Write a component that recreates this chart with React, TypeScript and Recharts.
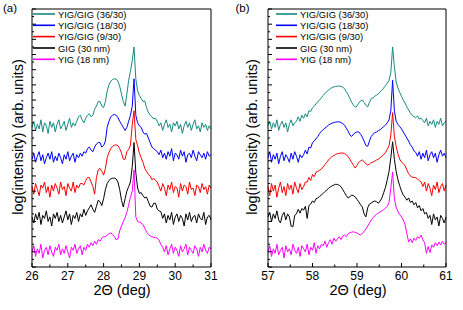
import { Line, LineChart, XAxis, YAxis } from 'recharts'

// XRD scans: (a) around the (444) region, (b) around (888)
const scanA = { start: 26, step: 0.05 }
const scanB = { start: 57, step: 0.04 }

const seriesNames = ['YIG/GIG (36/30)', 'YIG/GIG (18/30)', 'YIG/GIG (9/30)', 'GIG (30 nm)', 'YIG (18 nm)']
const seriesColors = ['#178a80', '#0000ff', '#ff0000', '#000000', '#ff00ff']

const xTicksA = [26, 26.5, 27, 27.5, 28, 28.5, 29, 29.5, 30, 30.5, 31]
const xTicksB = [57, 57.5, 58, 58.5, 59, 59.5, 60, 60.5, 61]
const yTicks = [
  0, 0.5, 1, 1.5, 2, 2.5, 3, 3.5, 4, 4.5, 5, 5.5, 6, 6.5, 7, 7.5, 8, 8.5, 9, 9.5, 10, 10.5, 11, 11.5, 12,
  12.5, 13, 13.5, 14, 14.5, 15, 15.5, 16, 16.5, 17,
]

// log intensity, stacked (arb. units)
const tealA = [
  9.2, 9.6, 9.0, 9.4, 9.1, 9.7, 8.9, 9.5, 9.3, 8.8, 9.6, 9.2, 9.5, 8.9, 9.4, 9.7, 9.1, 9.3, 9.6, 9.0, 9.4, 9.8, 9.2, 9.5, 9.3,
  9.6, 9.9, 10.0, 9.7, 9.5, 9.8, 10.0, 10.1, 9.9, 10.0, 10.4, 10.6, 10.9, 10.9, 10.6, 10.5, 10.9, 11.6, 12.0, 12.25, 12.35,
  12.4, 12.38, 12.25, 11.9, 11.4, 10.9, 10.6, 11.4, 12.3, 12.9, 13.6, 14.5, 12.4, 11.6, 11.3, 11.1, 10.9, 10.95, 10.5, 10.2,
  10.0, 9.9, 9.75, 9.8, 9.6,
  9.3, 9.5, 9.0, 9.4, 9.7, 9.2, 9.4, 8.9, 9.5, 9.3, 9.6, 9.1, 9.4, 8.8, 9.3, 9.6, 9.2, 9.5, 9.0, 9.4, 9.7, 9.1, 9.3, 8.9, 9.5,
  9.2, 9.4, 9.0, 9.3, 9.1,
]
const blueA = [
  7.1, 7.5, 6.9, 7.3, 7.6, 7.0, 7.4, 6.8, 7.2, 7.5, 7.1, 7.6, 6.9, 7.3, 7.0, 7.5, 7.2, 6.8, 7.4, 7.1, 7.6, 7.0, 7.3, 7.5, 6.9,
  7.4, 7.2,
  7.5, 7.3, 7.6, 7.5, 7.8, 7.9, 7.7, 7.6, 7.9, 8.1, 8.2, 8.2, 7.9, 8.0, 8.3, 9.2, 9.6, 9.9, 10.0, 10.05, 10.0, 9.85, 9.6, 9.4,
  9.2, 9.0, 9.2, 9.6, 10.0, 10.6, 12.4, 10.0, 9.5, 9.3, 9.2, 8.9, 8.75, 8.8, 8.5, 8.2, 7.9, 7.8, 7.7, 7.6,
  7.4, 7.7, 7.2, 7.5, 7.1, 7.6, 7.3, 7.8, 7.0, 7.5, 7.4, 7.1, 7.7, 7.3, 7.6, 6.9, 7.4, 7.5, 7.2, 7.7, 7.3, 7.0, 7.6, 7.4, 7.2,
  7.5, 7.1, 7.6, 7.3, 7.4,
]
const redA = [
  5.3, 4.8, 5.5, 5.1, 4.7, 5.4, 5.2, 5.6, 4.9, 5.3, 4.6, 5.4, 5.0, 5.5, 5.2, 4.8, 5.6, 5.1, 5.3, 4.7, 5.5, 5.2, 5.0, 5.6, 4.9,
  5.4, 5.2, 5.5,
  5.5, 5.4, 5.7, 5.9, 5.9, 5.6, 5.3, 4.8, 5.9, 6.4, 6.5, 6.3, 6.05, 6.5, 7.2, 7.55, 7.8, 7.95, 8.02, 8.05, 8.0, 7.8, 7.5, 7.1,
  7.1, 7.6, 7.75, 8.0, 9.4, 10.3, 8.4, 8.0, 7.5, 7.2, 6.9, 6.5, 6.3, 6.1, 6.0, 5.75, 5.85, 5.7, 5.6,
  5.3, 5.0, 5.5, 5.2, 4.7, 5.4, 5.1, 5.6, 4.9, 5.3, 5.2, 4.6, 5.5, 5.0, 5.4, 5.3, 4.8, 5.6, 5.1, 5.2, 4.7, 5.4, 5.3, 4.9, 5.5,
  5.1, 5.3, 4.8, 5.4, 5.2,
]
const blackA = [
  3.3, 2.9, 3.5, 3.1, 3.6, 2.8, 3.4, 3.2, 3.7, 3.0, 3.3, 2.7, 3.5, 3.2, 3.6, 3.0, 3.4, 2.9, 3.3, 3.7, 3.1, 3.5, 2.8, 3.4, 3.2,
  3.6, 3.0, 3.5, 3.3, 3.8, 3.4,
  3.7, 3.9, 4.1, 3.8, 3.6, 4.0, 4.4, 4.3, 4.05, 4.5, 5.1, 5.5, 5.7, 5.8, 5.85, 5.86, 5.8, 5.6, 5.1, 4.4, 3.95, 4.5, 5.0, 5.3,
  5.6, 6.6, 8.2, 6.2, 5.2, 4.85, 4.9, 4.7, 4.55, 4.6, 4.3, 4.0, 3.95, 4.2, 4.2, 3.8, 3.7, 3.65,
  3.2, 3.5, 2.9, 3.4, 3.1, 3.6, 2.8, 3.3, 3.5, 3.0, 3.4, 3.2, 2.7, 3.5, 3.1, 3.6, 3.0, 3.3, 3.4, 2.9, 3.5, 3.2, 3.1, 3.6, 2.8,
  3.3, 3.4, 3.1,
]
const magentaA = [
  1.0, 1.4, 0.7, 1.2, 0.9, 1.5, 0.6, 1.1, 1.3, 0.8, 1.4, 1.0, 0.7, 1.3, 1.1, 1.5, 0.8, 1.2, 0.9, 1.4, 1.0, 0.6, 1.3, 1.1, 1.5,
  0.9, 1.2, 1.4, 0.8, 1.3, 1.1,
  1.5, 1.3, 1.6, 1.4, 1.7, 1.5, 1.8, 1.7, 1.9, 2.0, 2.0, 2.1, 2.2, 2.25, 2.15, 2.0, 1.8, 1.85, 2.4, 2.7, 3.0, 3.25, 3.6, 4.1,
  4.6, 5.0, 6.4, 3.3, 3.0, 2.95, 2.9, 2.8, 2.55, 2.3, 2.15, 2.05, 2.0, 1.95, 1.95, 1.9, 1.75, 1.5, 1.3,
  1.0, 1.4, 0.8, 1.2, 1.5, 0.9, 1.3, 1.1, 0.7, 1.4, 1.0, 1.2, 1.5, 0.8, 1.3, 1.1, 0.9, 1.4, 1.2, 0.7, 1.3, 1.0, 1.5, 1.1, 0.9,
  1.3, 1.2,
]

const tealB = [
  9.3, 9.6, 9.1, 9.5, 9.2, 9.7, 9.0, 9.4, 9.6, 9.2, 9.5, 8.9, 9.4, 9.7, 9.3, 9.5,
  9.6, 9.9, 9.6, 10.0, 9.8, 10.1, 9.9, 10.3, 10.25, 10.5, 10.6, 10.75, 10.9, 11.0, 11.15, 11.3, 11.45, 11.55, 11.65, 11.75,
  11.82, 11.87, 11.9, 11.92, 11.92, 11.9, 11.85, 11.75, 11.55, 11.35, 11.1, 10.85, 10.65, 10.55, 10.6, 10.8, 10.95, 11.0,
  10.85, 10.65, 10.55, 10.85, 11.1, 11.15, 11.25, 11.33, 11.4, 11.55, 11.65, 11.8, 11.95, 12.1, 12.3, 12.8, 14.5, 13.2, 12.2,
  11.8, 11.5, 11.25, 11.0, 10.8, 10.55, 10.35, 10.15, 10.0, 9.9, 9.85, 9.95, 9.75, 9.8, 9.65,
  9.5, 9.8, 9.3, 9.6, 9.4, 9.7, 9.2, 9.6, 9.4, 9.8, 9.3, 9.5, 9.6,
]
const blueB = [
  7.2, 7.6, 6.9, 7.4, 7.1, 7.5, 6.8, 7.3, 7.6, 7.0, 7.4, 7.2, 6.9, 7.5, 7.1, 7.6, 7.3, 6.9, 7.4, 7.2,
  7.4, 7.7, 7.45, 7.9, 7.85, 8.2, 8.3, 8.45, 8.6, 8.8, 8.95, 9.05, 9.15, 9.25, 9.35, 9.42, 9.48, 9.52, 9.55, 9.57, 9.56, 9.52,
  9.45, 9.35, 9.15, 8.95, 8.7, 8.6, 8.75, 8.85, 8.9, 8.9, 8.75, 8.55, 8.3, 8.0, 7.95, 8.3, 8.6, 8.75, 8.85, 8.9, 8.98, 9.05,
  9.15, 9.25, 9.35, 9.5, 9.7, 10.3, 12.3, 10.3, 9.6, 9.4, 9.25, 9.1, 8.9, 8.7, 8.5, 8.3, 8.05, 7.9, 7.65, 7.55,
  7.3, 7.6, 7.1, 7.5, 7.2, 7.7, 7.0, 7.4, 7.6, 7.2, 7.5, 6.9, 7.4, 7.7, 7.3, 7.5, 7.2,
]
const redB = [
  5.3, 4.7, 5.5, 5.0, 5.4, 4.6, 5.2, 5.6, 4.9, 5.3, 4.7, 5.5, 5.1, 5.4, 4.8, 5.6, 5.2, 4.9, 5.5, 5.1, 5.3, 5.6,
  5.6, 5.9, 5.7, 6.1, 5.95, 6.25, 6.3, 6.38, 6.45, 6.6, 6.75, 6.9, 7.05, 7.18, 7.28, 7.35, 7.42, 7.46, 7.49, 7.51, 7.51, 7.48,
  7.4, 7.27, 7.1, 6.9, 6.7, 6.52, 6.7, 6.88, 7.0, 7.05, 6.95, 6.8, 6.72, 6.78, 6.88, 6.92, 6.98, 7.05, 7.11, 7.2, 7.3, 7.4,
  7.55, 7.75, 8.0, 8.7, 10.17, 8.6, 7.95, 7.45, 7.1, 6.92, 6.8, 6.7, 6.4, 6.15, 6.0, 5.92, 5.9, 5.88, 5.8, 5.7, 5.6,
  5.3, 5.6, 5.0, 5.5, 5.2, 4.7, 5.4, 5.1, 5.6, 4.9, 5.3, 5.5, 5.0, 5.4,
]
const blackB = [
  3.3, 3.6, 3.0, 3.5, 3.2, 3.7, 3.1, 2.9, 3.4, 3.6, 3.1, 3.5, 3.3, 2.7, 2.65, 3.4,
  3.5, 3.8, 3.55, 3.85, 3.75, 4.0, 3.2, 4.05, 4.15, 4.35, 4.25, 4.5, 4.55, 4.65, 4.75, 4.85, 4.97, 5.07, 5.18, 5.28, 5.35,
  5.4, 5.45, 5.44, 5.38, 5.29, 5.1, 4.9, 4.7, 4.55, 4.62, 4.74, 4.7, 4.62, 4.45, 4.3, 4.1, 3.95, 3.5, 3.3, 3.9, 4.15, 4.22,
  4.3, 4.35, 4.3, 4.2, 4.35, 4.55, 4.9, 5.25, 5.75, 6.3, 7.2, 8.25, 7.1, 6.3, 5.75, 5.35, 5.0, 4.75, 4.6, 4.4, 4.55, 4.25,
  4.35, 4.1, 4.25, 3.9, 4.05, 3.7, 3.85, 3.5, 3.6, 3.2,
  3.4, 2.8, 3.5, 3.1, 3.3, 2.7, 3.4, 3.2, 2.9, 3.3,
]
const magentaB = [
  1.0, 1.4, 0.7, 1.2, 0.9, 1.5, 0.8, 1.1, 1.3, 0.6, 1.4, 1.0, 1.2, 0.8, 1.5, 1.1, 0.9, 1.3, 0.7, 1.4, 1.2, 1.0, 1.5, 0.8, 1.3,
  1.1, 1.6, 0.9, 1.4, 1.2, 1.5,
  1.4, 1.7, 1.3, 1.6, 1.8, 1.5, 1.9, 1.7, 1.85, 2.0, 1.8, 2.05, 2.1, 2.0, 2.2, 2.25, 2.3, 2.32, 2.28, 2.24, 2.15, 2.12, 2.2,
  2.35, 2.5, 2.7, 2.9, 3.1, 3.25, 3.38, 3.47, 3.56, 3.63, 3.7, 3.78, 3.88, 4.0, 4.25, 5.2, 6.26, 4.5, 3.95, 3.65, 3.45, 3.3,
  3.1, 2.8, 2.2,
  1.65, 1.85, 1.6, 1.9, 1.75, 2.0, 1.9, 2.1, 1.8, 1.6, 0.9, 1.35, 0.95, 1.45, 1.3, 1.6, 1.4, 1.65, 1.45, 1.7, 1.5, 1.62,
]

const FONT = '"Liberation Sans", Arial, sans-serif'
const keys = ['s0', 's1', 's2', 's3', 's4']

function buildRows(scan: { start: number; step: number }, series: number[][]) {
  return series[0].map((_, i) => {
    const row: Record<string, number> = { x: +(scan.start + i * scan.step).toFixed(3) }
    series.forEach((s, k) => {
      row[keys[k]] = s[i]
    })
    return row
  })
}

const rowsA = buildRows(scanA, [tealA, blueA, redA, blackA, magentaA])
const rowsB = buildRows(scanB, [tealB, blueB, redB, blackB, magentaB])

const isMajor = (v: number) => Math.abs(v - Math.round(v)) < 1e-6

const LeftTick = (props: any) => {
  const { x, y, payload } = props
  const len = isMajor(payload.value) ? 4 : 2
  return <line x1={x} x2={x + len} y1={y} y2={y} stroke="#000" strokeWidth={1} />
}

const RightTick = (props: any) => {
  const { x, y, payload } = props
  const len = isMajor(payload.value) ? 4 : 2
  return <line x1={x} x2={x - len} y1={y} y2={y} stroke="#000" strokeWidth={1} />
}

const BottomTick = (props: any) => {
  const { x, y, payload } = props
  const major = isMajor(payload.value)
  return (
    <g>
      <line x1={x} x2={x} y1={y} y2={y - (major ? 4 : 2.5)} stroke="#000" strokeWidth={1} />
      {major && (
        <text x={x} y={y + 13} textAnchor="middle" fontSize={12} fontFamily={FONT} fill="#000">
          {payload.value}
        </text>
      )}
    </g>
  )
}

type PanelProps = {
  rows: Record<string, number>[]
  domain: [number, number]
  ticks: number[]
  left: number
  width: number
  margin: { top: number; right: number; bottom: number; left: number }
}

function Panel({ rows, domain, ticks, left, width, margin }: PanelProps) {
  return (
    <div style={{ position: 'absolute', left, top: 0 }}>
      <LineChart width={width} height={310} data={rows} margin={margin}>
        <XAxis
          dataKey="x"
          type="number"
          domain={domain}
          ticks={ticks}
          interval={0}
          height={30}
          tickSize={0}
          tickMargin={0}
          tickLine={false}
          axisLine={{ stroke: '#000' }}
          tick={<BottomTick />}
        />
        <XAxis
          xAxisId="top"
          orientation="top"
          dataKey="x"
          type="number"
          domain={domain}
          height={1}
          tick={false}
          tickLine={false}
          axisLine={{ stroke: '#000' }}
        />
        <YAxis
          type="number"
          domain={[0, 17]}
          ticks={yTicks}
          interval={0}
          width={1}
          tickSize={0}
          tickMargin={0}
          tickLine={false}
          axisLine={{ stroke: '#000' }}
          tick={<LeftTick />}
        />
        <YAxis
          yAxisId="right"
          orientation="right"
          type="number"
          domain={[0, 17]}
          ticks={yTicks}
          interval={0}
          width={1}
          tickSize={0}
          tickMargin={0}
          tickLine={false}
          axisLine={{ stroke: '#000' }}
          tick={<RightTick />}
        />
        {keys.map((k, i) => (
          <Line
            key={k}
            dataKey={k}
            type="linear"
            stroke={seriesColors[i]}
            strokeWidth={1}
            dot={false}
            isAnimationActive={false}
          />
        ))}
      </LineChart>
    </div>
  )
}

function Legend({ lineX1, lineX2, textX }: { lineX1: number; lineX2: number; textX: number }) {
  const rowY = [14, 25.3, 36.6, 48, 59.3]
  return (
    <g>
      {seriesNames.map((name, i) => (
        <g key={name}>
          <line x1={lineX1} x2={lineX2} y1={rowY[i]} y2={rowY[i]} stroke={seriesColors[i]} strokeWidth={1.6} />
          <text x={textX} y={rowY[i]} dominantBaseline="central" fontSize={9.4} fontFamily={FONT} fill="#000">
            {name}
          </text>
        </g>
      ))}
    </g>
  )
}

export default function App() {
  return (
    <div style={{ position: 'fixed', left: 0, top: 0, width: 463, height: 310, background: '#fff' }}>
      <Panel
        rows={rowsA}
        domain={[26, 31]}
        ticks={xTicksA}
        left={0}
        width={230}
        margin={{ top: 8, right: 18, bottom: 13, left: 31 }}
      />
      <Panel
        rows={rowsB}
        domain={[57, 61]}
        ticks={xTicksB}
        left={236}
        width={227}
        margin={{ top: 8, right: 16, bottom: 13, left: 31 }}
      />
      <svg
        width={463}
        height={310}
        style={{ position: 'absolute', left: 0, top: 0, pointerEvents: 'none' }}
      >
        <text x={10} y={8} textAnchor="middle" dominantBaseline="central" fontSize={11.5} fontFamily={FONT}>
          (a)
        </text>
        <text x={242.5} y={8} textAnchor="middle" dominantBaseline="central" fontSize={11.5} fontFamily={FONT}>
          (b)
        </text>
        <Legend lineX1={33} lineX2={55} textX={58} />
        <Legend lineX1={276} lineX2={297} textX={300} />
        <text x={22.5} y={137} textAnchor="middle" fontSize={14.5} fontFamily={FONT} transform="rotate(-90 22.5 137)">
          log(intensity) (arb. units)
        </text>
        <text x={257} y={137} textAnchor="middle" fontSize={14.5} fontFamily={FONT} transform="rotate(-90 257 137)">
          log(intensity) (arb. units)
        </text>
        <text x={122} y={295} textAnchor="middle" fontSize={14.5} fontFamily={FONT}>
          2Θ (deg)
        </text>
        <text x={358} y={295} textAnchor="middle" fontSize={14.5} fontFamily={FONT}>
          2Θ (deg)
        </text>
      </svg>
    </div>
  )
}
